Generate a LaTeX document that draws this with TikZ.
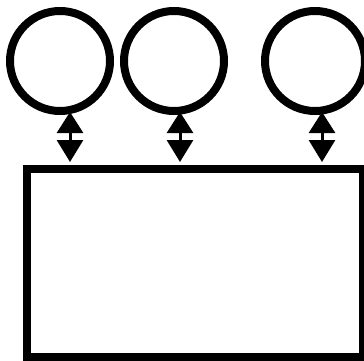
\documentclass[tikz,border=0pt]{standalone}
\usetikzlibrary{arrows.meta}
\begin{document}
\begin{tikzpicture}[x=1pt,y=-1pt]
\useasboundingbox (0,0) rectangle (364,361);
\clip (0,0) rectangle (364,361);
\tikzset{
  ball/.style={draw,circle,line width=8pt,minimum size=100pt,inner sep=0pt},
  box/.style={draw,rectangle,line width=8pt,minimum width=336pt,minimum height=188pt,inner sep=0pt},
  link/.style={line width=3pt,{Triangle[width=26pt,length=21pt]}-{Triangle[width=26pt,length=22pt]}}
}
\node[ball] (c1) at (60,61) {};
\node[ball] (c2) at (174,61) {};
\node[ball] (c3) at (315,61) {};
\node[box] (r) at (195,263) {};
\draw[link] ([xshift=10pt,yshift=3pt]c1.south) -- ([xshift=10pt,yshift=3pt]c1.south |- r.north);
\draw[link] ([xshift=6pt,yshift=3pt]c2.south) -- ([xshift=6pt,yshift=3pt]c2.south |- r.north);
\draw[link] ([xshift=7pt,yshift=3pt]c3.south) -- ([xshift=7pt,yshift=3pt]c3.south |- r.north);
\end{tikzpicture}
\end{document}
